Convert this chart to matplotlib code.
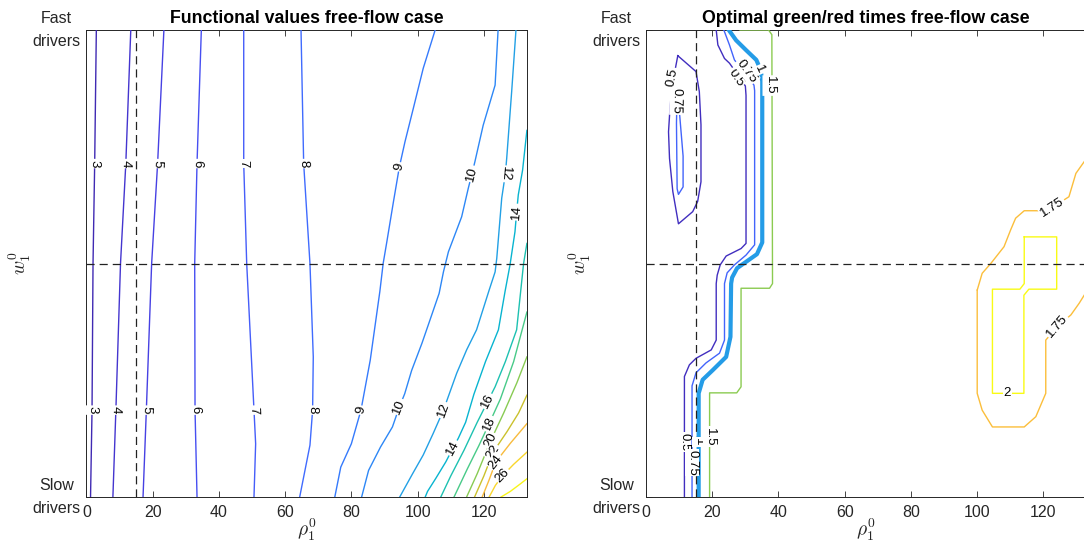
import numpy as np
import matplotlib
matplotlib.use('Agg')
import matplotlib.pyplot as plt
from matplotlib.colors import LinearSegmentedColormap, Normalize

plt.rcParams['font.family'] = ['Liberation Sans', 'DejaVu Sans']
plt.rcParams['mathtext.fontset'] = 'cm'

# MATLAB parula (sampled from the 64-entry map)
parula_idx = [0, 4, 7, 10, 14, 17, 21, 25, 29, 32, 36, 40, 43, 46, 49, 52, 54, 57, 60, 63]
parula_rgb = [(0.2422, 0.1504, 0.6603), (0.2706, 0.2147, 0.8364), (0.2803, 0.2782, 0.9221),
              (0.2795, 0.3447, 0.9717), (0.2440, 0.4358, 0.9988), (0.1834, 0.5074, 0.9798),
              (0.1540, 0.5902, 0.9218), (0.1113, 0.6635, 0.8763), (0.0036, 0.7203, 0.7917),
              (0.0964, 0.7500, 0.7120), (0.2161, 0.7843, 0.5923), (0.3909, 0.8029, 0.4354),
              (0.5616, 0.7942, 0.3045), (0.7242, 0.7698, 0.1910), (0.8634, 0.7406, 0.1596),
              (0.9728, 0.7298, 0.2394), (0.9970, 0.7659, 0.2199), (0.9786, 0.8386, 0.1766),
              (0.9597, 0.9135, 0.1423), (0.9769, 0.9839, 0.0805)]
parula = LinearSegmentedColormap.from_list('parula', [(i / 63, c) for i, c in zip(parula_idx, parula_rgb)])

# axes
rho_max = 133
rho_ticks = [0, 20, 40, 60, 80, 100, 120]
w_ticks = [0, 1]
w_ticklabels = ['Slow\ndrivers', 'Fast\ndrivers']
rho_ref = 15     # vertical dashed line
w_ref = 0.5      # horizontal dashed line

# ---- left panel: functional values (contour lines) ----
fv_levels = [3, 4, 5, 6, 7, 8, 9, 10, 12, 14, 16, 18, 20, 22, 24, 26, 28]
fv_rho = [
    [3.0, 2.5, 2.0, 1.7, 1.25],
    [13.4, 11.9, 10.3, 8.9, 8.0],
    [23.4, 21.5, 19.7, 18.1, 17.1],
    [34.7, 33.4, 32.7, 32.8, 33.4],
    [47.5, 47.5, 48.4, 50.6, 51.1, 50.6],
    [64.8, 65.6, 67.5, 68.5, 68.3, 67.5, 64.4],
    [105.3, 101.7, 98.7, 96.2, 94.5, 92.7, 90.7, 89.6, 88.6, 85.7, 82.9, 80.0, 76.8, 75.0],
    [124.3, 123.4, 119.8, 117.3, 116.4, 115.3, 113.3, 109.3, 107.8, 106.5, 103.2, 101.3,
     98.2, 96.1, 94.5, 92.4, 88.8, 85.2, 83.1],
    [129.7, 128.4, 126.9, 126.5, 125.4, 123.9, 123.4, 121.6, 117.8, 114.8, 111.8, 107.8,
     104.7, 101.7, 98.5, 94.6],
    [133.0, 131.7, 130.4, 129.9, 129.4, 127.9, 126.4, 124.4, 120.5, 117.0, 114.5, 112.3,
     110.7, 108.5, 105.5, 103.0, 102.3],
    [133.0, 132.0, 129.9, 126.5, 123.4, 121.2, 118.0, 114.0, 110.0, 107.0],
    [133.0, 129.0, 125.0, 121.6, 118.5, 115.0, 111.0],
    [133.0, 130.0, 126.0, 122.1, 118.0, 114.8],
    [133.0, 130.5, 127.0, 122.8, 120.0, 117.2],
    [133.0, 128.0, 123.6, 121.5, 119.5],
    [133.0, 129.0, 125.7, 123.5, 121.6],
    [133.0, 131.0, 128.0, 125.2],
]
fv_w = [
    [1.0, 0.714, 0.5, 0.186, 0.0],
    [1.0, 0.714, 0.5, 0.186, 0.0],
    [1.0, 0.714, 0.5, 0.186, 0.0],
    [1.0, 0.714, 0.5, 0.186, 0.0],
    [1.0, 0.714, 0.5, 0.186, 0.114, 0.0],
    [1.0, 0.714, 0.5, 0.3, 0.186, 0.111, 0.0],
    [1.0, 0.918, 0.832, 0.761, 0.707, 0.632, 0.546, 0.5, 0.44, 0.293, 0.186, 0.114, 0.064, 0.0],
    [1.0, 0.882, 0.796, 0.718, 0.692, 0.661, 0.6, 0.525, 0.482, 0.436, 0.368, 0.329,
     0.271, 0.221, 0.193, 0.15, 0.107, 0.057, 0.0],
    [1.0, 0.868, 0.725, 0.692, 0.64, 0.511, 0.482, 0.443, 0.358, 0.315, 0.265, 0.186,
     0.136, 0.09, 0.05, 0.0],
    [0.785, 0.70, 0.647, 0.61, 0.568, 0.497, 0.44, 0.358, 0.29, 0.22, 0.16, 0.126,
     0.105, 0.075, 0.04, 0.012, 0.0],
    [0.543, 0.5, 0.358, 0.29, 0.236, 0.205, 0.16, 0.1, 0.045, 0.0],
    [0.396, 0.29, 0.21, 0.157, 0.11, 0.06, 0.0],
    [0.30, 0.245, 0.18, 0.121, 0.05, 0.0],
    [0.218, 0.18, 0.14, 0.096, 0.045, 0.0],
    [0.157, 0.115, 0.075, 0.035, 0.0],
    [0.096, 0.07, 0.046, 0.025, 0.0],
    [0.039, 0.028, 0.012, 0.0],
]
fv_lab_level = [3, 4, 5, 6, 7, 8, 9, 10, 12, 14,
                3, 4, 5, 6, 7, 8, 9, 10, 12, 14, 16, 18, 20, 22, 24, 26]
fv_lab_rho = [2.5, 11.9, 21.5, 33.4, 47.5, 65.6, 94.5, 116.4, 126.5, 129.9,
              1.7, 8.9, 18.1, 32.8, 50.6, 68.3, 82.9, 94.5, 107.8, 110.7, 121.2, 121.6, 122.1, 122.8, 123.6, 125.7]
fv_lab_w = [0.714, 0.714, 0.714, 0.714, 0.714, 0.714, 0.707, 0.692, 0.692, 0.61,
            0.186, 0.186, 0.186, 0.186, 0.186, 0.186, 0.186, 0.193, 0.186, 0.105, 0.205, 0.157, 0.121, 0.096, 0.075, 0.046]

# ---- right panel: optimal green/red times ----
gr_level = [0.5, 0.75, 0.5, 0.75, 1.0, 1.5, 1.75, 1.75, 2.0]
gr_rho = [
    [9.6, 15.1, 16.1, 16.6, 16.6, 15.6, 14.1, 9.8, 8.1, 7.1, 6.8, 7.3, 8.1, 9.6],
    [9.4, 9.2, 9.4, 9.8, 11.2, 11.2, 10.2, 9.4],
    [21.2, 21.7, 23.7, 25.2, 27.6, 30.0, 30.2, 30.2, 28.7, 24.2, 22.4, 21.5, 21.2, 21.2,
     19.7, 15.1, 13.1, 11.6, 11.6],
    [23.5, 25.2, 26.7, 30.0, 32.6, 32.8, 32.8, 30.2, 26.7, 24.5, 23.7, 23.7, 22.2, 18.1,
     15.1, 13.9, 13.9],
    [25.0, 27.2, 30.2, 33.3, 34.6, 35.1, 35.1, 33.5, 30.5, 27.5, 26.0, 25.7, 25.5, 24.2,
     20.2, 17.1, 15.9, 15.9],
    [28.4, 37.0, 38.0, 38.2, 37.3, 28.7, 28.7, 27.4, 19.2, 19.2],
    [133.0, 129.8, 127.7, 122.7, 118.7, 114.2, 111.6, 110.1, 108.1, 104.1, 101.5, 100.0],
    [100.0, 100.0, 101.5, 104.6, 114.2, 117.7, 120.7, 120.7, 124.2, 128.3, 130.8, 133.0],
    [114.2, 124.0, 124.0, 115.6, 114.1, 114.1, 104.6, 104.6, 112.9, 114.2, 114.2],
]
gr_w = [
    [0.945, 0.911, 0.868, 0.797, 0.675, 0.633, 0.611, 0.585, 0.654, 0.725, 0.782, 0.839, 0.889, 0.945],
    [0.875, 0.80, 0.66, 0.648, 0.664, 0.73, 0.815, 0.875],
    [1.0, 0.968, 0.939, 0.929, 0.905, 0.88, 0.86, 0.543, 0.532, 0.516, 0.497, 0.475, 0.457, 0.336,
     0.315, 0.297, 0.283, 0.258, 0.0],
    [1.0, 0.968, 0.936, 0.905, 0.882, 0.87, 0.54, 0.518, 0.497, 0.48, 0.457, 0.336, 0.308, 0.287,
     0.266, 0.238, 0.0],
    [1.0, 0.978, 0.957, 0.936, 0.915, 0.89, 0.545, 0.52, 0.505, 0.49, 0.47, 0.457, 0.343, 0.300,
     0.272, 0.251, 0.222, 0.0],
    [1.0, 1.0, 0.99, 0.457, 0.447, 0.447, 0.236, 0.223, 0.223, 0.0],
    [0.725, 0.693, 0.643, 0.62, 0.613, 0.613, 0.597, 0.572, 0.536, 0.500, 0.479, 0.443],
    [0.443, 0.222, 0.186, 0.150, 0.150, 0.172, 0.222, 0.336, 0.365, 0.390, 0.415, 0.44],
    [0.557, 0.557, 0.445, 0.445, 0.432, 0.222, 0.222, 0.445, 0.445, 0.457, 0.557],
]
gr_lab_piece = [0, 1, 2, 3, 4, 5, 2, 3, 4, 5, 6, 7, 8]
gr_lab_text = ['0.5', '0.75', '0.5', '0.75', '1', '1.5', '0.5', '0.75', '1', '1.5', '1.75', '1.75', '2']
gr_lab_rho = [7.9, 9.2, 27.2, 30.4, 34.3, 37.3, 11.6, 13.9, 15.9, 19.2, 122.7, 124.2, 109.1]
gr_lab_w = [0.898, 0.848, 0.898, 0.912, 0.915, 0.881, 0.118, 0.074, 0.118, 0.129, 0.62, 0.365, 0.222]

INK = '#262626'


def label_angle(ax, xs, ys, x0, y0):
    pts = ax.transData.transform(np.column_stack([xs, ys]))
    p0 = ax.transData.transform((x0, y0))
    best_d, best_v = None, None
    for a, b in zip(pts[:-1], pts[1:]):
        v = b - a
        t = np.clip(np.dot(p0 - a, v) / max(np.dot(v, v), 1e-9), 0, 1)
        d = np.linalg.norm(a + t * v - p0)
        if best_d is None or d < best_d:
            best_d, best_v = d, v
    ang = np.degrees(np.arctan2(best_v[1], best_v[0]))
    while ang >= 85:
        ang -= 180
    while ang < -95:
        ang += 180
    return ang


def put_label(ax, text, x, y, ang):
    ax.text(x, y, text, rotation=ang, rotation_mode='anchor', ha='center', va='center',
            fontsize=9.5, color='black', zorder=5,
            bbox=dict(boxstyle='square,pad=0.08', fc='white', ec='none'))


def style_axes(ax, title):
    ax.set_xlim(0, rho_max)
    ax.set_ylim(0, 1)
    ax.set_xticks(rho_ticks)
    ax.set_yticks(w_ticks)
    ax.set_yticklabels(w_ticklabels)
    for t in ax.get_yticklabels():
        t.set_multialignment('center')
        t.set_linespacing(1.7)
        t.set_va('center')
    ax.tick_params(direction='in', length=4.5, width=0.6, top=True, right=True,
                   labelsize=11.5, colors=INK, pad=4)
    ax.tick_params(axis='x', pad=6)
    for s in ax.spines.values():
        s.set_color(INK)
        s.set_linewidth(0.7)
    ax.axvline(rho_ref, color='#222222', lw=0.9, ls=(0, (6.5, 4)), zorder=4)
    ax.axhline(w_ref, color='#222222', lw=0.9, ls=(0, (6.5, 4)), zorder=4)
    ax.set_title(title, fontsize=12.8, fontweight='bold', pad=5)
    ax.set_xlabel(r'$\rho_1^0$', fontsize=14, color=INK)
    ax.xaxis.label.set_va('center')
    ax.xaxis.set_label_coords(0.5, -0.07)
    ax.set_ylabel(r'$w_1^0$', fontsize=14, color=INK)
    ax.yaxis.label.set_va('center')
    ax.yaxis.set_label_coords(-0.151, 0.5)


fig = plt.figure(figsize=(10.84, 5.45), dpi=100)
ax1 = fig.add_axes([86.4 / 1084, 48 / 545, 440.5 / 1084, 467 / 545])
ax2 = fig.add_axes([646 / 1084, 48 / 545, 440.5 / 1084, 467 / 545])

style_axes(ax1, 'Functional values free-flow case')
style_axes(ax2, 'Optimal green/red times free-flow case')

# left panel lines
norm1 = Normalize(2.5, 28.5)
for lev, xs, ys in zip(fv_levels, fv_rho, fv_w):
    ax1.plot(xs, ys, color=parula(norm1(lev)), lw=1.0, zorder=3)
for lev, x, y in zip(fv_lab_level, fv_lab_rho, fv_lab_w):
    i = fv_levels.index(lev)
    put_label(ax1, str(lev), x, y, label_angle(ax1, fv_rho[i], fv_w[i], x, y))

# right panel lines
norm2 = Normalize(0.45, 2.0)
for lev, xs, ys in zip(gr_level, gr_rho, gr_w):
    lw = 3.0 if lev == 1.0 else 1.0
    ax2.plot(xs, ys, color=parula(norm2(lev)), lw=lw, zorder=3, solid_joinstyle='round')
for p, txt, x, y in zip(gr_lab_piece, gr_lab_text, gr_lab_rho, gr_lab_w):
    put_label(ax2, txt, x, y, label_angle(ax2, gr_rho[p], gr_w[p], x, y))

fig.savefig('out.png', dpi=100)
